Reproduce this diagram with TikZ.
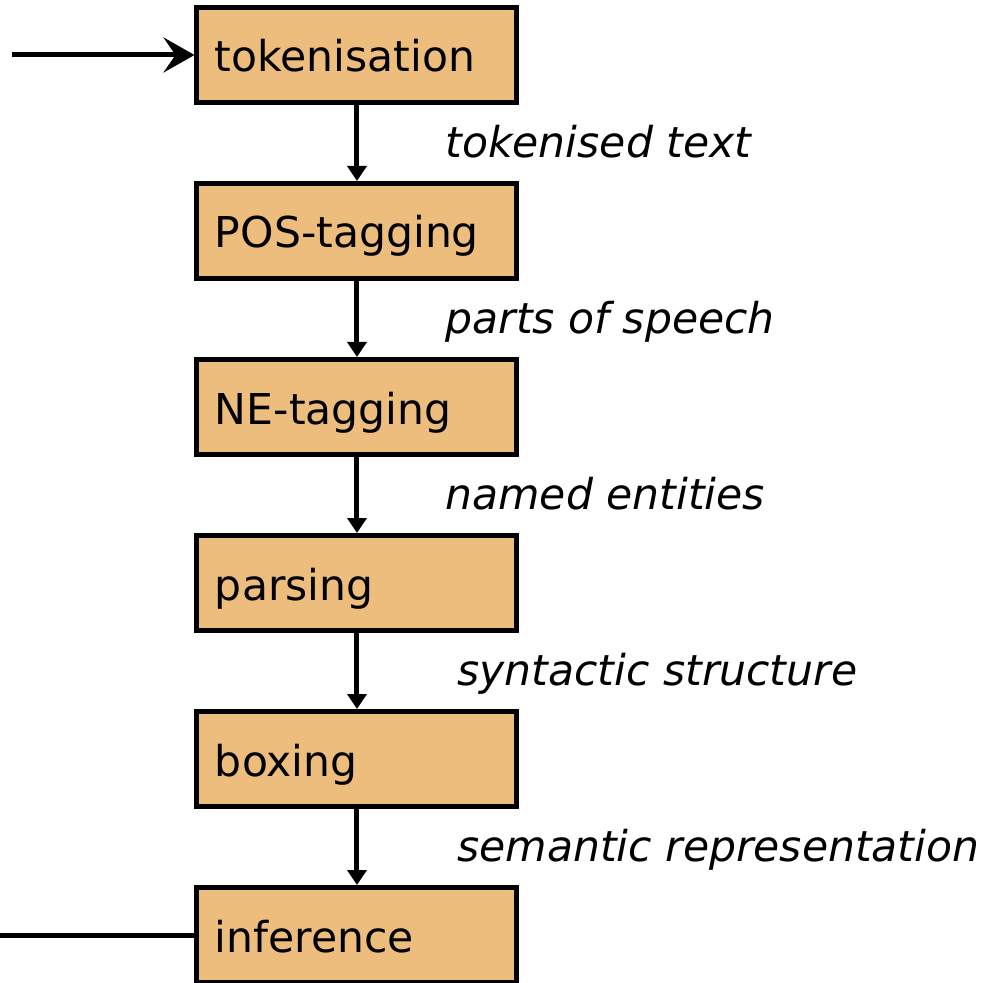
\documentclass[tikz,border=0pt]{standalone}
\usepackage{fontspec}
\setmainfont{DejaVu Sans}
\usetikzlibrary{positioning}
\usetikzlibrary{arrows.meta}

\definecolor{stagefill}{RGB}{237,189,126}

\begin{document}
\begin{tikzpicture}[
  node distance=1.52cm,
  font=\fontsize{24.2pt}{29pt}\selectfont,
  stage/.style={rectangle, draw, line width=0.1cm, fill=stagefill, minimum width=6.4cm, minimum height=1.9cm,
    inner xsep=0.36cm, text width=5.68cm, align=left, text height=0.9cm, text depth=0.22cm},
  flow/.style={-{Triangle[length=0.3cm, width=0.38cm]}, line width=0.1cm},
  feed/.style={-{Stealth[length=0.62cm, width=0.7cm, inset=0.24cm]}, line width=0.1cm},
  data/.style={font=\fontsize{24.2pt}{29pt}\itshape, inner sep=0pt, text height=0.62cm, text depth=0.2cm}
]
  \useasboundingbox (-7.14,1.1) rectangle (12.82,-18.56);

  \node[stage] (tok) at (0,0) {tokenisation};
  \node[stage, below=of tok] (pos) {POS-tagging};
  \node[stage, below=of pos] (ne) {NE-tagging};
  \node[stage, below=of ne] (parse) {parsing};
  \node[stage, below=of parse] (box) {boxing};
  \node[stage, below=of box] (inf) {inference};

  \coordinate[left=3.64cm of tok] (in);
  \coordinate[left=3.95cm of inf] (out);

  \draw[feed] (in) -- (tok);
  \draw[flow] (tok) -- node[data, right=1.72cm, yshift=-2pt] {tokenised text} (pos);
  \draw[flow] (pos) -- node[data, right=1.72cm, yshift=-2pt] {parts of speech} (ne);
  \draw[flow] (ne) -- node[data, right=1.72cm, yshift=-2pt] {named entities} (parse);
  \draw[flow] (parse) -- node[data, right=1.96cm, yshift=-2pt] {syntactic structure} (box);
  \draw[flow] (box) -- node[data, right=1.96cm, yshift=-2pt] {semantic representation} (inf);
  \draw[line width=0.1cm] (inf) -- (out);
\end{tikzpicture}
\end{document}
